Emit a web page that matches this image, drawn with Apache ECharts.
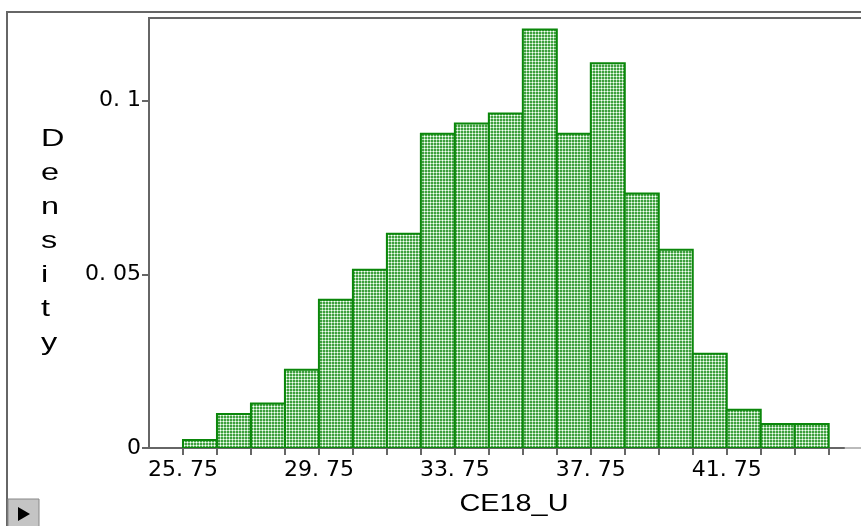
<!DOCTYPE html>
<html><head><meta charset="utf-8">
<script src="https://cdn.jsdelivr.net/npm/echarts@6/dist/echarts.min.js"></script>
<style>html,body{margin:0;padding:0;background:#fff}#c{width:861px;height:526px}</style>
</head><body><div id="c"></div>
<script>
// Histogram bin edges (CE18_U) and density values
const binEdges = [25.75,26.75,27.75,28.75,29.75,30.75,31.75,32.75,33.75,34.75,35.75,36.75,37.75,38.75,39.75,40.75,41.75,42.75,43.75,44.75];
const densities = [0.0023,0.0098,0.0128,0.0225,0.0427,0.0513,0.0617,0.0905,0.0934,0.0963,0.1205,0.0905,0.1108,0.0733,0.0571,0.0271,0.0110,0.0069,0.0069];
const xTickLabels = [25.75,29.75,33.75,37.75,41.75];
const yTickLabels = [0,0.05,0.1];
const xTitle = 'CE18_U';
const yTitle = 'Density';

// hatch-like fill pattern
const pc = document.createElement('canvas');
pc.width = 3; pc.height = 3;
const px = pc.getContext('2d');
const G = '#3f9f3f', L = '#acdcac', W = '#ffffff';
const tile = [[G,L,G],[L,W,L],[G,L,G]];
for (let r = 0; r < 3; r++) for (let c = 0; c < 3; c++) { px.fillStyle = tile[r][c]; px.fillRect(c, r, 1, 1); }
const pattern = { image: pc, repeat: 'repeat' };

const barData = densities.map((d, i) => [binEdges[i], binEdges[i + 1], d]);

const chart = echarts.init(document.getElementById('c'), null, { renderer: 'canvas' });
chart.setOption({
  animation: false,
  backgroundColor: '#ffffff',
  grid: { left: 149, right: 17, top: 18, bottom: 78, containLabel: false },
  xAxis: {
    type: 'value', min: 24.75, max: 45.2,
    axisLine: { show: true, lineStyle: { color: '#666', width: 2 } },
    axisTick: { show: true, customValues: binEdges, length: 7, lineStyle: { color: '#666', width: 2 } },
    axisLabel: {
      customValues: xTickLabels, margin: 11,
      formatter: v => v.toFixed(2).replace('.', '. '),
      fontFamily: 'DejaVu Sans', fontSize: 22, color: '#000'
    },
    splitLine: { show: false }
  },
  yAxis: {
    type: 'value', min: 0, max: 0.1238,
    axisLine: { show: true, lineStyle: { color: '#666', width: 2 } },
    axisTick: { show: true, customValues: yTickLabels, length: 7, lineStyle: { color: '#666', width: 2 } },
    axisLabel: {
      customValues: yTickLabels, margin: 8,
      formatter: v => v === 0 ? '0' : String(v).replace('.', '. '),
      fontFamily: 'DejaVu Sans', fontSize: 22, color: '#000'
    },
    splitLine: { show: false }
  },
  series: [{
    type: 'custom',
    data: barData,
    encode: { x: [0, 1], y: 2 },
    clip: true,
    renderItem: function (params, api) {
      const p0 = api.coord([api.value(0), 0]);
      const p1 = api.coord([api.value(1), api.value(2)]);
      return {
        type: 'rect',
        shape: { x: p0[0], y: p1[1], width: p1[0] - p0[0], height: p0[1] - p1[1] },
        style: { fill: pattern, stroke: '#0b870b', lineWidth: 2 }
      };
    }
  }],
  graphic: [
    { type: 'rect', shape: { x: 7, y: 12, width: 900, height: 600 }, style: { fill: 'none', stroke: '#666', lineWidth: 2 }, silent: true },
    { type: 'line', shape: { x1: 148, y1: 18, x2: 861, y2: 18 }, style: { stroke: '#666', lineWidth: 2 }, silent: true },
    { type: 'line', shape: { x1: 844, y1: 448, x2: 861, y2: 448 }, style: { stroke: '#bbb', lineWidth: 2 }, silent: true },
    { type: 'text', x: 41, y: 122, scaleX: 1.35,
      style: { text: yTitle.split('').join('\n'), font: '24px "Liberation Sans", Arial, sans-serif', fill: '#000', textAlign: 'left', textVerticalAlign: 'top', lineHeight: 34 } },
    { type: 'text', x: 514, y: 504, scaleX: 1.2,
      style: { text: xTitle, font: '24px "Liberation Sans", Arial, sans-serif', fill: '#000', textAlign: 'center', textVerticalAlign: 'middle' } },
    { type: 'rect', shape: { x: 8, y: 499, width: 31, height: 30 }, style: { fill: '#c4c4c4', stroke: '#888', lineWidth: 1 }, silent: true },
    { type: 'polygon', shape: { points: [[18, 507], [30, 514], [18, 521]] }, style: { fill: '#000' }, silent: true }
  ]
});
</script>
</body></html>
